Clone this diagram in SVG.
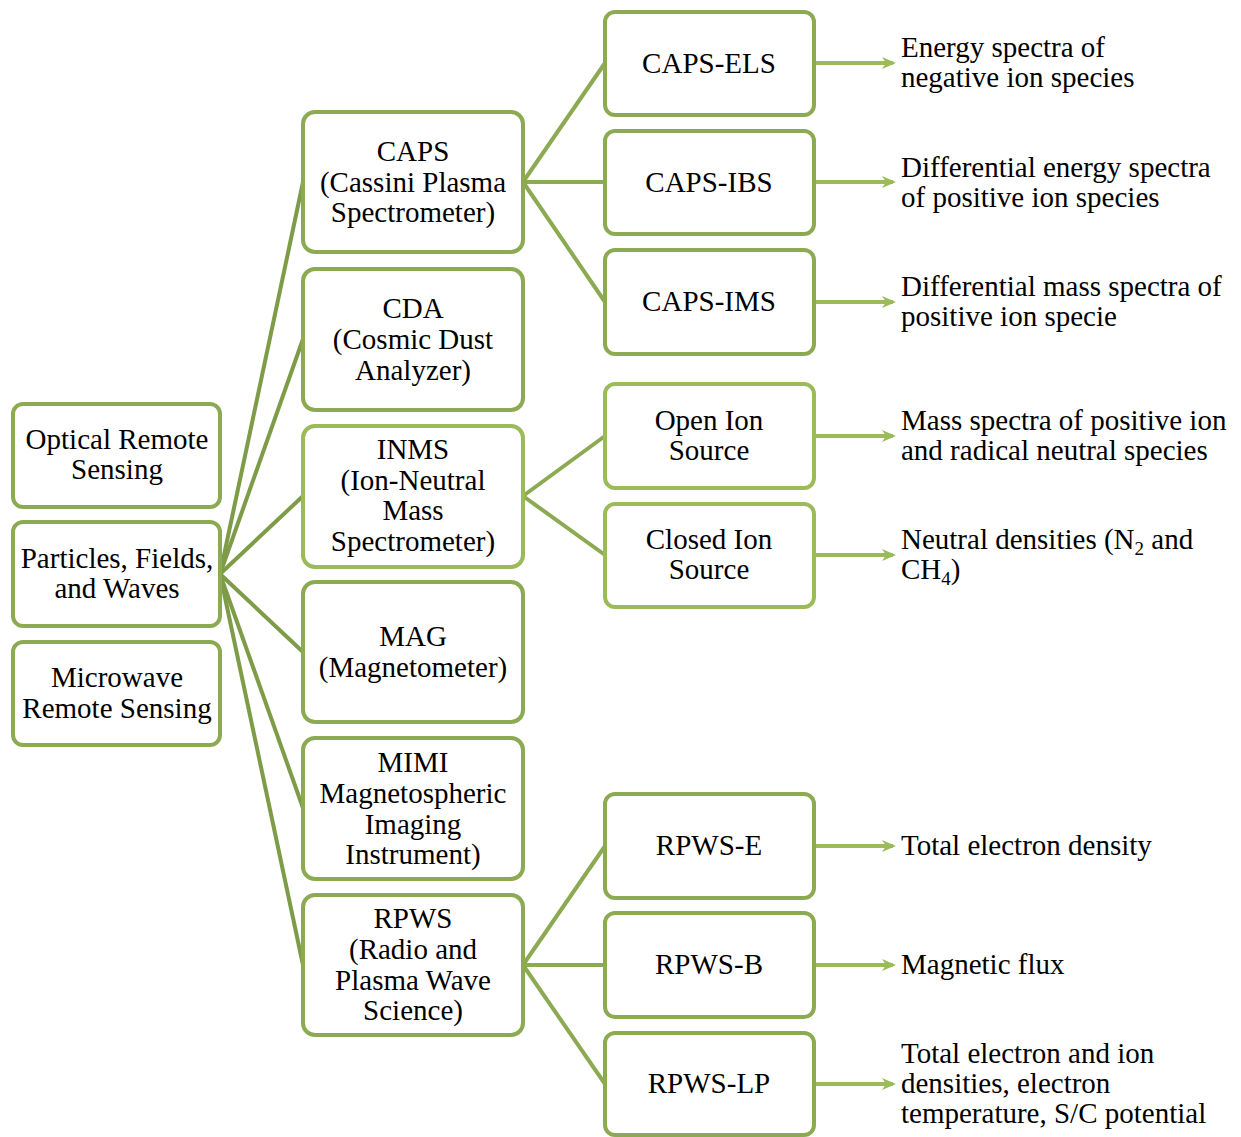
<svg xmlns="http://www.w3.org/2000/svg" width="1241" height="1137" viewBox="0 0 1241 1137">
<defs>
<style>
text{font-family:"Liberation Serif","Times New Roman",serif;font-size:29px;fill:#000}
.c{text-anchor:middle}
.box{fill:#fff;stroke:#8CAA52;stroke-width:4}
.lt{stroke:#9BBB59}
.lc{stroke:#7E9C48;stroke-width:4;fill:none}
.rc{stroke:#8CAA52;stroke-width:4;fill:none}
.ar{stroke:#9BBB59;stroke-width:4;fill:none}
</style>
<marker id="ah" markerWidth="14" markerHeight="14" refX="11" refY="7" orient="auto" markerUnits="userSpaceOnUse" viewBox="0 0 14 14">
<path d="M0,1 L14,7 L0,13 L4,7 Z" fill="#9BBB59"/>
</marker>
</defs>
<g id="connectors">
<line class="lc" x1="220" y1="574" x2="303" y2="182"/>
<line class="lc" x1="220" y1="574" x2="303" y2="339"/>
<line class="lc" x1="220" y1="574" x2="303" y2="496"/>
<line class="lc" x1="220" y1="574" x2="303" y2="652"/>
<line class="lc" x1="220" y1="574" x2="303" y2="808"/>
<line class="lc" x1="220" y1="574" x2="303" y2="965"/>
<line class="rc" x1="523" y1="182" x2="605" y2="63"/>
<line class="rc" x1="523" y1="182" x2="605" y2="182"/>
<line class="rc" x1="523" y1="182" x2="605" y2="302"/>
<line class="rc lt" x1="523" y1="496" x2="605" y2="436"/>
<line class="rc lt" x1="523" y1="496" x2="605" y2="555"/>
<line class="rc" x1="523" y1="965" x2="605" y2="846"/>
<line class="rc" x1="523" y1="965" x2="605" y2="965"/>
<line class="rc" x1="523" y1="965" x2="605" y2="1084"/>
<line class="ar" x1="814" y1="63" x2="893" y2="63" marker-end="url(#ah)"/>
<line class="ar" x1="814" y1="182" x2="893" y2="182" marker-end="url(#ah)"/>
<line class="ar" x1="814" y1="302" x2="893" y2="302" marker-end="url(#ah)"/>
<line class="ar" x1="814" y1="436" x2="893" y2="436" marker-end="url(#ah)"/>
<line class="ar" x1="814" y1="555" x2="893" y2="555" marker-end="url(#ah)"/>
<line class="ar" x1="814" y1="846" x2="893" y2="846" marker-end="url(#ah)"/>
<line class="ar" x1="814" y1="965" x2="893" y2="965" marker-end="url(#ah)"/>
<line class="ar" x1="814" y1="1084" x2="893" y2="1084" marker-end="url(#ah)"/>
</g>
<g id="optical"><rect class="box" x="13" y="404" width="207" height="103" rx="10"/><text class="c" x="117" y="449">Optical Remote</text><text class="c" x="117" y="479">Sensing</text></g>
<g id="particles"><rect class="box" x="13" y="522" width="207" height="104" rx="10"/><text class="c" x="117" y="568">Particles, Fields,</text><text class="c" x="117" y="598">and Waves</text></g>
<g id="microwave"><rect class="box" x="13" y="642" width="207" height="103" rx="10"/><text class="c" x="117" y="687">Microwave</text><text class="c" x="117" y="718">Remote Sensing</text></g>
<g id="caps"><rect class="box" x="303" y="112" width="220" height="140" rx="12"/><text class="c" x="413" y="161">CAPS</text><text class="c" x="413" y="192">(Cassini Plasma</text><text class="c" x="413" y="222">Spectrometer)</text></g>
<g id="cda"><rect class="box" x="303" y="269" width="220" height="141" rx="12"/><text class="c" x="413" y="318">CDA</text><text class="c" x="413" y="349">(Cosmic Dust</text><text class="c" x="413" y="380">Analyzer)</text></g>
<g id="inms"><rect class="box lt" x="303" y="426" width="220" height="141" rx="12"/><text class="c" x="413" y="459">INMS</text><text class="c" x="413" y="490">(Ion-Neutral</text><text class="c" x="413" y="520">Mass</text><text class="c" x="413" y="551">Spectrometer)</text></g>
<g id="mag"><rect class="box" x="303" y="582" width="220" height="140" rx="12"/><text class="c" x="413" y="646">MAG</text><text class="c" x="413" y="677">(Magnetometer)</text></g>
<g id="mimi"><rect class="box" x="303" y="738" width="220" height="141" rx="12"/><text class="c" x="413" y="772">MIMI</text><text class="c" x="413" y="803">Magnetospheric</text><text class="c" x="413" y="834">Imaging</text><text class="c" x="413" y="864">Instrument)</text></g>
<g id="rpws"><rect class="box" x="303" y="895" width="220" height="140" rx="12"/><text class="c" x="413" y="928">RPWS</text><text class="c" x="413" y="959">(Radio and</text><text class="c" x="413" y="990">Plasma Wave</text><text class="c" x="413" y="1020">Science)</text></g>
<g id="caps-els"><rect class="box" x="605" y="12" width="209" height="103" rx="10"/><text class="c" x="709" y="73">CAPS-ELS</text></g>
<g id="caps-ibs"><rect class="box" x="605" y="131" width="209" height="103" rx="10"/><text class="c" x="709" y="192">CAPS-IBS</text></g>
<g id="caps-ims"><rect class="box" x="605" y="250" width="209" height="104" rx="10"/><text class="c" x="709" y="311">CAPS-IMS</text></g>
<g id="open-ion"><rect class="box lt" x="605" y="384" width="209" height="104" rx="10"/><text class="c" x="709" y="430">Open Ion</text><text class="c" x="709" y="460">Source</text></g>
<g id="closed-ion"><rect class="box lt" x="605" y="504" width="209" height="103" rx="10"/><text class="c" x="709" y="549">Closed Ion</text><text class="c" x="709" y="579">Source</text></g>
<g id="rpws-e"><rect class="box" x="605" y="794" width="209" height="104" rx="10"/><text class="c" x="709" y="855">RPWS-E</text></g>
<g id="rpws-b"><rect class="box" x="605" y="913" width="209" height="104" rx="10"/><text class="c" x="709" y="974">RPWS-B</text></g>
<g id="rpws-lp"><rect class="box" x="605" y="1033" width="209" height="102" rx="10"/><text class="c" x="709" y="1093">RPWS-LP</text></g>
<g id="out-els"><text x="901" y="57">Energy spectra of</text><text x="901" y="87">negative ion species</text></g>
<g id="out-ibs"><text x="901" y="177">Differential energy spectra</text><text x="901" y="207">of positive ion species</text></g>
<g id="out-ims"><text x="901" y="296">Differential mass spectra of</text><text x="901" y="326">positive ion specie</text></g>
<g id="out-open"><text x="901" y="430">Mass spectra of positive ion</text><text x="901" y="460">and radical neutral species</text></g>
<g id="out-closed"><text x="901" y="549">Neutral densities (N<tspan font-size="19" dy="6">2</tspan><tspan dy="-6"> and</tspan></text><text x="901" y="579">CH<tspan font-size="19" dy="6">4</tspan><tspan dy="-6">)</tspan></text></g>
<g id="out-e"><text x="901" y="855">Total electron density</text></g>
<g id="out-b"><text x="901" y="974">Magnetic flux</text></g>
<g id="out-lp"><text x="901" y="1063">Total electron and ion</text><text x="901" y="1093">densities, electron</text><text x="901" y="1123">temperature, S/C potential</text></g>
</svg>
